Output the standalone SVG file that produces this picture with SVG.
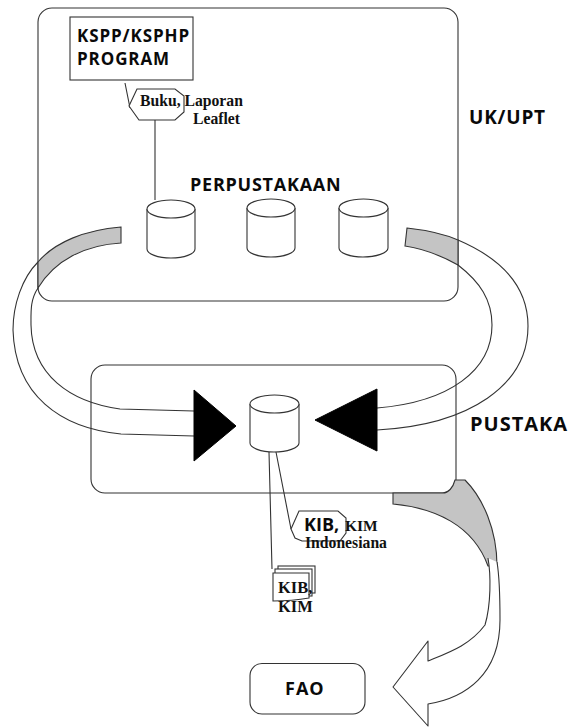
<svg xmlns="http://www.w3.org/2000/svg" width="570" height="727" viewBox="0 0 570 727">
<style>
.ln{fill:none;stroke:#333;stroke-width:1.1}
.wh{fill:#fff;stroke:#333;stroke-width:1.1}
.gr{fill:#c4c4c4;stroke:#333;stroke-width:1.1}
.bk{fill:#000;stroke:#000}
.s{font-family:"Open Sans","Noto Sans",sans-serif;font-weight:700;fill:#0a0a0a}
.t{font-family:"Liberation Serif",serif;font-weight:700;fill:#111}
</style>
<rect width="570" height="727" fill="#fff"/>
<g id="uk-upt"><rect class="ln" x="38" y="8" width="420" height="293" rx="14"/><text class="s" x="469" y="124" font-size="19" letter-spacing="0.8">UK/UPT</text></g>
<g id="pustaka"><rect class="ln" x="91" y="365" width="365" height="128" rx="14"/><text class="s" x="470" y="431" font-size="20" letter-spacing="1">PUSTAKA</text></g>
<g id="connectors">
<path class="gr" d="M121 227V243C85 245 55 260 38 288V262C55 242 85 230 121 227Z"/>
<path class="ln" d="M38 262C22 278 13 305 13 330C15 395 60 428 121 434L194 436"/>
<path class="ln" d="M38 288C30 300 31 312 31 325C32 375 70 402 120 409L194 411"/>
<path class="bk" d="M194 390L236 426L194 461Z"/>
<path class="gr" d="M407 228L405 246C425 249 442 256 458 265V240C442 233 425 230 407 228Z"/>
<path class="ln" d="M458 240C500 258 528 285 528 326C528 385 470 425 377 430"/>
<path class="ln" d="M458 265C480 282 492 300 492 325C492 370 450 402 377 408"/>
<path class="bk" d="M377 389L315 420L377 451Z"/>
<path class="gr" d="M393 493V504C435 508 473 525 488 566H497C497 530 483 498 465 480H455C453 488 448 493 443 493Z"/>
<path class="wh" d="M488 558C491 575 491 605 485 625C470 645 450 652 428 661V641L393 687L428 726V704C465 698 500 675 500 620C500 600 500 580 497 562" stroke-linejoin="round"/>
<path class="ln" d="M125 83L130 108M155 120V200"/>
<path class="ln" d="M269 452L272 569M276 452L291 529"/>
</g>
<g id="kspp"><rect class="wh" x="70" y="17" width="123" height="63"/><text class="s" x="77" y="42" font-size="17" letter-spacing="0.9">KSPP/KSPHP</text><text class="s" x="77" y="65" font-size="17" letter-spacing="0.9">PROGRAM</text></g>
<g id="buku"><path class="wh" d="M129 106L137 89H175L184 96V112L175 120H139Z"/><text class="t" x="140" y="106" font-size="15.700">Buku, Laporan</text><text class="t" x="193" y="124" font-size="15.700">Leaflet</text></g>
<g id="perpustakaan"><text class="s" x="190" y="191" font-size="18" letter-spacing="0.75">PERPUSTAKAAN</text></g>
<g id="cyl1"><path class="wh" d="M147 209V249C147 254 158 258 171 258C184 258 195 254 195 249V209"/><ellipse class="wh" cx="171" cy="209" rx="24" ry="9"/></g>
<g id="cyl2"><path class="wh" d="M247 208V248C247 253 258 257 271 257C284 257 295 253 295 248V208"/><ellipse class="wh" cx="271" cy="208" rx="24" ry="9"/></g>
<g id="cyl3"><path class="wh" d="M339 208V248C339 253 350 257 363 257C376 257 388 253 388 248V208"/><ellipse class="wh" cx="363.500" cy="208" rx="24.500" ry="9"/></g>
<g id="cyl4"><path class="wh" d="M250 404V443C250 448 261 452 274 452C287 452 299 448 299 443V404"/><ellipse class="wh" cx="274.500" cy="404" rx="24.500" ry="9"/></g>
<g id="kib-kim"><path class="wh" d="M291 529L299 511H338L346 518V533L340 541H302L295 538Z"/><text class="s" x="304" y="531" font-size="18">KIB,</text><text class="t" x="345" y="531" font-size="15.500">KIM</text><text class="t" x="305" y="548" font-size="15.700">Indonesiana</text></g>
<g id="kib-stack"><rect class="wh" x="278" y="566" width="37" height="27"/><rect class="wh" x="275" y="569" width="37" height="27"/><path class="wh" d="M273 573H309V598C298 600 285 601 273 601Z"/><text class="t" x="278" y="593" font-size="16.500">KIB,</text><text class="t" x="278" y="612" font-size="16.500">KIM</text></g>
<g id="fao"><rect class="ln" x="250" y="663.500" width="115" height="50.500" rx="12"/><text class="s" x="285" y="695" font-size="18" letter-spacing="1">FAO</text></g>
</svg>
